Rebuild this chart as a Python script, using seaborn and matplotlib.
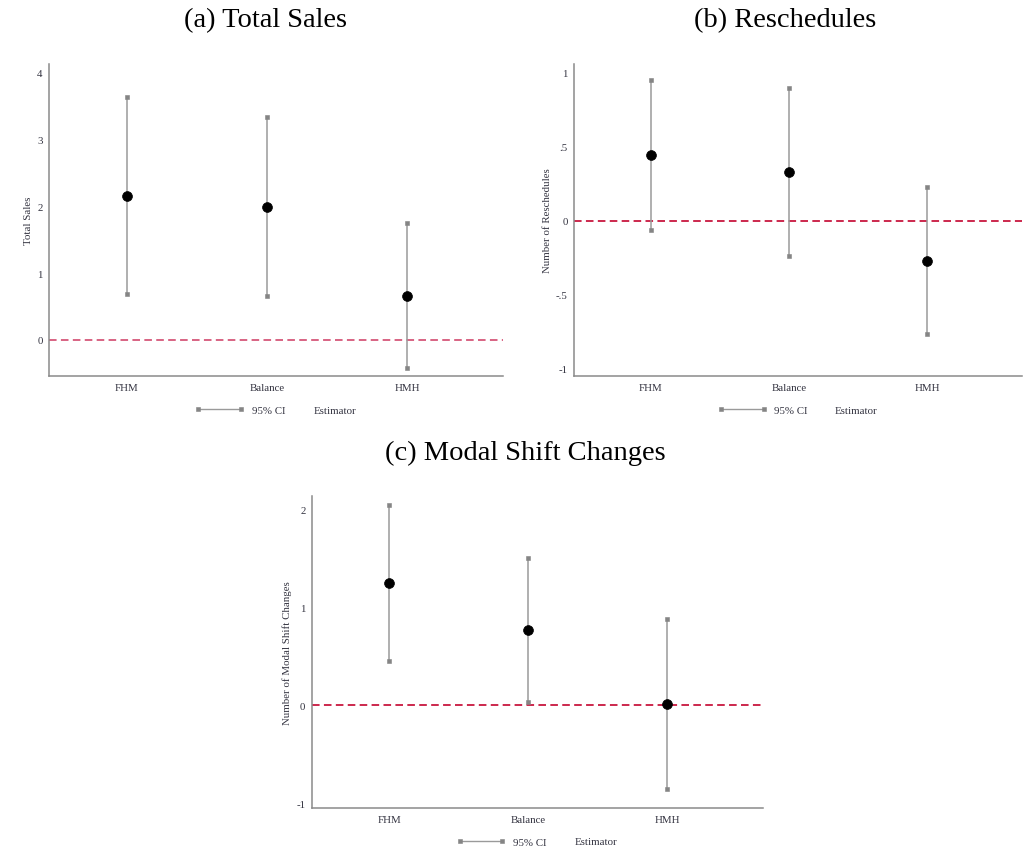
import matplotlib
matplotlib.use("Agg")
import matplotlib.pyplot as plt
from matplotlib.lines import Line2D
import pandas as pd
import seaborn as sns

# Treatment arms shown on every panel
categories = ["FHM", "Balance", "HMH"]

# (a) Total Sales: point estimates and 95% CI bounds
sales_est = [2.16, 1.995, 0.655]
sales_lo = [0.685, 0.66, -0.425]
sales_hi = [3.63, 3.33, 1.745]

# (b) Reschedules
resched_est = [0.443, 0.327, -0.271]
resched_lo = [-0.064, -0.24, -0.766]
resched_hi = [0.951, 0.90, 0.226]

# (c) Modal Shift Changes
modal_est = [1.25, 0.765, 0.01]
modal_lo = [0.45, 0.03, -0.851]
modal_hi = [2.05, 1.50, 0.878]

sns.set_style("white")
plt.rcParams["font.family"] = ["Liberation Serif", "DejaVu Serif"]
plt.rcParams["axes.unicode_minus"] = False

FS = 7.8
TXT = "#333340"
SPINE = "#8a8a8a"
CI_COL = "#9a9a9a"
CAP_COL = "#858585"
CAP = dict(ls="none", marker="s", ms=2.3, mew=0.4, color=CAP_COL, zorder=2)

fig = plt.figure(figsize=(10.34, 8.54), dpi=100)
W, H = 1034.0, 854.0


def add_axes_px(left, top, right, bottom):
    return fig.add_axes([left / W, 1 - bottom / H, (right - left) / W, (bottom - top) / H])


def draw_panel(ax, est, lo, hi, ylabel, yticks, yticklabels, ylim, zero_col):
    df = pd.DataFrame({"arm": categories, "est": est, "lo": lo, "hi": hi})
    ax.axhline(0, color=zero_col, lw=1.3, ls=(0, (4.2, 2.4)), zorder=1)
    ax.vlines(df["arm"], df["lo"], df["hi"], color=CI_COL, lw=1.1, zorder=2)
    ax.plot(df["arm"], df["lo"], **CAP)
    ax.plot(df["arm"], df["hi"], **CAP)
    sns.scatterplot(data=df, x="arm", y="est", ax=ax, color="black", s=50,
                    edgecolor="black", linewidth=0.5, zorder=3, legend=False)
    ax.set_xlim(-0.557, 2.686)
    ax.set_ylim(*ylim)
    ax.set_yticks(yticks)
    ax.set_yticklabels(yticklabels)
    ax.set_xlabel("")
    ax.set_ylabel(ylabel, fontsize=FS, color=TXT, labelpad=3)
    for side in ("top", "right"):
        ax.spines[side].set_visible(False)
    for side in ("left", "bottom"):
        ax.spines[side].set_color(SPINE)
        ax.spines[side].set_linewidth(1.1)
    ax.tick_params(axis="y", length=3, width=0.8, color=SPINE, labelsize=FS,
                   labelcolor=TXT, pad=1.5)
    ax.tick_params(axis="x", length=0, labelsize=FS, labelcolor=TXT, pad=5)

    handle = Line2D([0], [0], color=CI_COL, lw=1.0, marker="s", ms=2.3, mew=0.4,
                    markerfacecolor=CAP_COL, markeredgecolor=CAP_COL)
    ax.legend([handle], ["95% CI"], loc="center left", bbox_to_anchor=(0.322, -0.109),
              frameon=False, fontsize=FS, numpoints=2, handlelength=4.5,
              handletextpad=0.7, borderpad=0, borderaxespad=0, labelcolor=TXT)
    ax.text(0.582, -0.109, "Estimator", transform=ax.transAxes, ha="left",
            va="center", fontsize=FS, color=TXT)


ax_a = add_axes_px(49, 65, 503, 377)
draw_panel(ax_a, sales_est, sales_lo, sales_hi, "Total Sales",
           [0, 1, 2, 3, 4], ["0", "1", "2", "3", "4"], (-0.54, 4.13), "#d6577a")

ax_b = add_axes_px(574, 65, 1021.7, 377)
draw_panel(ax_b, resched_est, resched_lo, resched_hi, "Number of Reschedules",
           [-1, -0.5, 0, 0.5, 1], ["-1", "-.5", "0", ".5", "1"], (-1.05, 1.06), "#c8173f")

ax_c = add_axes_px(311.7, 497.3, 762.7, 809)
draw_panel(ax_c, modal_est, modal_lo, modal_hi, "Number of Modal Shift Changes",
           [-1, 0, 1, 2], ["-1", "0", "1", "2"], (-1.05, 2.135), "#c8173f")

fig.text(266 / W, 1 - 21 / H, "(a) Total Sales", ha="center", va="center", fontsize=20.5, color="black")
fig.text(785 / W, 1 - 21 / H, "(b) Reschedules", ha="center", va="center", fontsize=20.5, color="black")
fig.text(525.5 / W, 1 - 453 / H, "(c) Modal Shift Changes", ha="center", va="center", fontsize=20.5, color="black")

fig.savefig("out.png", dpi=100, facecolor="white")
